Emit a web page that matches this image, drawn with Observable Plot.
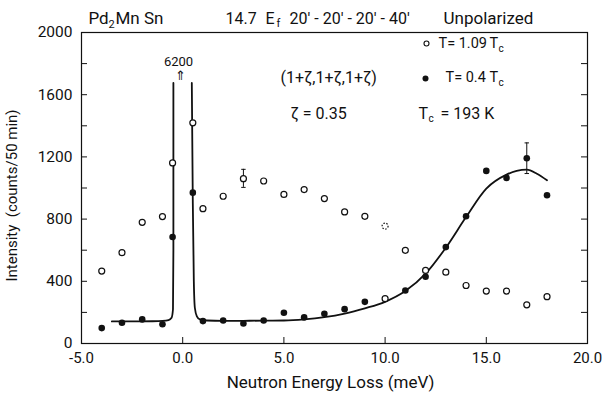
<!DOCTYPE html>
<html><head><meta charset="utf-8">
<script src="https://cdn.jsdelivr.net/npm/d3@7"></script>
<script src="https://cdn.jsdelivr.net/npm/@observablehq/plot@0.6"></script>
<style>
html,body{margin:0;padding:0;background:#fff;}
svg{font-family:Roboto,"DejaVu Sans",sans-serif;}
</style>
</head><body>
<div id="chart"></div>
<script>
// ---- data ----
const energy = [-4,-3,-2,-1,-0.5,0.5,1,2,3,4,5,6,7,8,9,10,11,12,13,14,15,16,17,18];
const highT  = [466,584,779,816,1161,1419,867,947,1060,1045,959,990,932,846,818,755,599,470,459,373,337,337,249,301]; // T = 1.09 Tc
const lowT   = [99,133,155,124,685,970,144,148,129,148,198,168,191,221,268,288,341,429,620,818,1110,1065,1191,953];     // T = 0.4 Tc
const errHigh = {e: 3, lo: 1004, hi: 1120};
const errLow  = {e: 17, lo: 1093, hi: 1290};
// fitted curve (two branches around the elastic peak, clipped at top)
const curveLeftE  = [-3.5,-2.5,-1.5,-1.0,-0.7,-0.55,-0.48,-0.46,-0.46];
const curveLeftI  = [142,142,143,145,150,165,220,600,1676];
const curveRightE = [0.45,0.5,0.55,0.6,0.7,0.85,1.2,2,3,4,5,6,7,8,9,10,11,12,13,14,15,16,16.5,17,17.5,18];
const curveRightI = [1676,900,400,230,175,155,148,146,146,147,148,155,169,192,226,268,337,449,616,813,996,1086,1110,1118,1092,1050];
const xLabels = [-5,0,5,10,15,20];
const xTicks = [0,5,10,15];
const yLabels = [0,400,800,1200,1600,2000];
const yTicks = [200,400,600,800,1000,1200,1400,1600,1800];

const highPts = energy.map((e,i)=>({e, v: highT[i], special: e===10}));
const lowPts  = energy.map((e,i)=>({e, v: lowT[i], special: e===10}));
const curve = [
  ...curveLeftE.map((e,i)=>({e, v: curveLeftI[i], seg:"L"})),
  ...curveRightE.map((e,i)=>({e, v: curveRightI[i], seg:"R"}))
];
const errEnds = [errHigh, errLow].flatMap(d=>[{e:d.e,v:d.lo},{e:d.e,v:d.hi}]);
const capSymbol = {draw(ctx, size){ const w = Math.sqrt(size)/2; ctx.moveTo(-w,0); ctx.lineTo(w,0); }};

const ML = 81, MT = 32;
function note(t, px, py, size, anchor="start") {
  return Plot.text([t], {frameAnchor:"top-left", text: d=>d, dx: px-ML, dy: py-MT,
    fontSize: size, textAnchor: anchor, lineAnchor: "middle", fill:"#111"});
}

const chart = Plot.plot({
  width: 605, height: 396,
  marginLeft: ML, marginRight: 18, marginTop: MT, marginBottom: 53,
  x: {domain: [-5, 20]},
  y: {domain: [0, 2000]},
  style: {fontFamily: "Roboto, 'DejaVu Sans', sans-serif", color: "#111", background: "#fff"},
  marks: [
    Plot.frame({stroke:"#111", strokeWidth: 1.2}),
    Plot.axisX({ticks: xLabels, tickSize: 0, tickPadding: 9, tickFormat: d=>d.toFixed(1), fontSize: 15, label: null}),
    Plot.axisY({ticks: yLabels, tickSize: 0, tickPadding: 9, tickFormat: d=>String(d), fontSize: 15.5, label: null}),
    Plot.tickX(xTicks, {x: d=>d, insetTop: 305, stroke:"#111"}),
    Plot.tickY(yTicks, {y: d=>d, insetRight: 500, stroke:"#111"}),
    Plot.tickY(yTicks, {y: d=>d, insetLeft: 500, stroke:"#111"}),
    // fitted curve
    Plot.line(curve, {x:"e", y:"v", z:"seg", stroke:"#111", strokeWidth: 1.8, curve:"monotone-x"}),
    // error bars
    Plot.ruleX([errHigh, errLow], {x:"e", y1:"lo", y2:"hi", stroke:"#111", strokeWidth: 1}),
    Plot.dot(errEnds, {x:"e", y:"v", symbol: capSymbol, r: 2.5, stroke:"#111", strokeWidth: 1, fill:"none"}),
    // data points
    Plot.dot(lowPts.filter(d=>!d.special), {x:"e", y:"v", r:3.3, fill:"#111", stroke:"none"}),
    Plot.dot(lowPts.filter(d=>d.special), {x:"e", y:"v", r:3, fill:"#fff", stroke:"#111", strokeWidth:1.2}),
    Plot.dot(highPts.filter(d=>!d.special), {x:"e", y:"v", r:3, fill:"#fff", stroke:"#111", strokeWidth:1.2}),
    Plot.dot(highPts.filter(d=>d.special), {x:"e", y:"v", r:3, fill:"#fff", stroke:"#111", strokeWidth:1.2, strokeDasharray:"1.5,1.5"}),
    // header
    note("Pd", 88, 18, 17),
    note("2", 108, 24, 11),
    note("Mn Sn", 115, 18, 17),
    note("14.7", 225, 18, 16),
    note("E", 265, 18, 16),
    note("f", 276, 23, 11),
    note("20′ - 20′ - 20′ - 40′", 289, 18, 16),
    note("Unpolarized", 443, 18, 17),
    // peak annotation
    note("6200", 178, 61, 13, "middle"),
    note("⇑", 180, 75, 13, "middle"),
    // legend & notes
    Plot.dot([0], {frameAnchor:"top-left", dx: 426-ML, dy: 43-MT, r:2.5, fill:"#fff", stroke:"#111", strokeWidth:1.1}),
    note("T= 1.09", 438, 43, 14.5),
    note("T", 489, 43, 14.5),
    note("c", 498, 48, 10),
    Plot.dot([0], {frameAnchor:"top-left", dx: 425-ML, dy: 78-MT, r:3, fill:"#111"}),
    note("T= 0.4", 445, 77, 14.5),
    note("T", 489, 77, 14.5),
    note("c", 498, 82, 10),
    note("(1+ζ,1+ζ,1+ζ)", 280, 77, 16),
    note("ζ = 0.35", 290, 113, 16),
    note("T", 418, 113, 16),
    note("c", 428, 118, 10),
    note("= 193 K", 440, 113, 16),
    // axis titles
    note("Neutron Energy Loss (meV)", 330, 382, 17, "middle"),
    Plot.text(["Intensity  (counts/50 min)"], {frameAnchor:"top-left", text:d=>d, dx: 12-ML, dy: 195-MT, rotate:-90, fontSize: 15, textAnchor:"middle", lineAnchor:"middle", fill:"#111"})
  ]
});
document.getElementById("chart").appendChild(chart);
</script>
</body></html>
